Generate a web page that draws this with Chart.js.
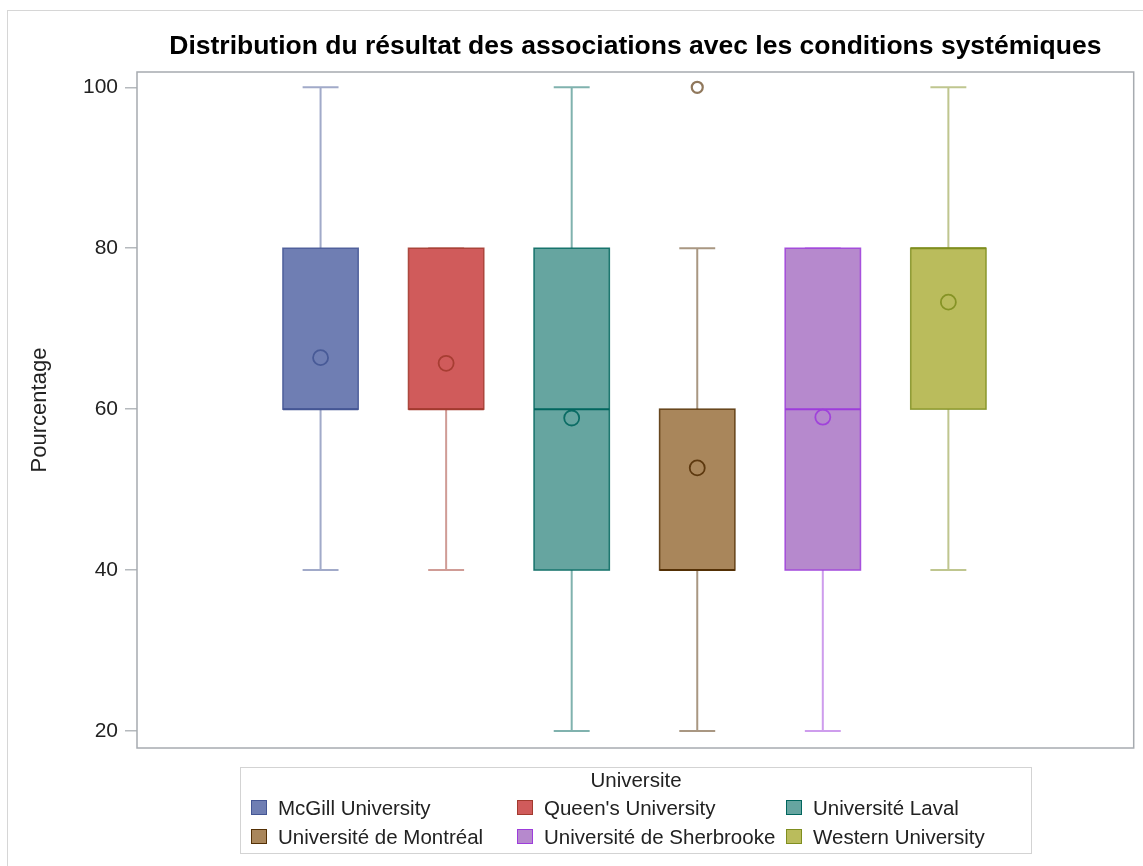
<!DOCTYPE html>
<html>
<head>
<meta charset="utf-8">
<script src="https://cdn.jsdelivr.net/npm/chart.js@4.4.1/dist/chart.umd.min.js"></script>
<style>
  html, body { margin: 0; padding: 0; background: #fff; }
  #wrap { position: relative; width: 1143px; height: 866px; overflow: hidden; }
  #frame { position: absolute; left: 7px; top: 10px; width: 1200px; height: 900px; border: 1px solid #d6d6d6; box-sizing: border-box; }
  canvas { position: absolute; left: 0; top: 0; }
  #legend { position: absolute; left: 240px; top: 767px; width: 792px; height: 87px; border: 1px solid #d3d3d3; box-sizing: border-box; font-family: "Liberation Sans", Arial, sans-serif; font-size: 20.5px; color: #222; }
  #legend .ttl { position: absolute; left: 0; right: 0; top: 0px; line-height: 24px; text-align: center; }
  #legend .item { position: absolute; white-space: nowrap; line-height: 24px; }
  #legend .sw { position: absolute; left: 0; top: 4px; width: 16px; height: 15px; border: 1.5px solid; box-sizing: border-box; }
  #legend .lbl { position: absolute; left: 27px; top: 0; }
</style>
</head>
<body>
<div id="wrap">
  <div id="frame"></div>
  <canvas id="c" width="1143" height="866"></canvas>
  <div id="legend"><div class="ttl">Universite</div></div>
</div>
<script>
// ---- data ----
const universities = ["McGill University", "Queen's University", "Université Laval", "Université de Montréal", "Université de Sherbrooke", "Western University"];
const whiskerLow  = [40, 40, 20, 20, 20, 40];
const q1Values    = [60, 60, 40, 40, 40, 60];
const medians     = [60, 60, 60, 40, 60, 80];
const q3Values    = [80, 80, 80, 60, 80, 80];
const whiskerHigh = [100, 80, 100, 80, 80, 100];
const means       = [66.4, 65.7, 58.9, 52.7, 59.0, 73.3];
const outlierUni  = [3];
const outlierVals = [100];
const yTicks      = [20, 40, 60, 80, 100];

const fillColors = ["#6F7EB3", "#D05B5B", "#66A5A0", "#A9865B", "#B689CD", "#BABC5C"];
const lineColors = ["#445694", "#A23A2E", "#01665E", "#543005", "#9D3CDB", "#7F8E1F"];

function rgba(hex, a) {
  const n = parseInt(hex.slice(1), 16);
  return `rgba(${(n >> 16) & 255},${(n >> 8) & 255},${n & 255},${a})`;
}

// ---- legend (HTML) ----
const legend = document.getElementById('legend');
const colX = [10, 276, 545];
universities.forEach((u, i) => {
  const it = document.createElement('div');
  it.className = 'item';
  it.style.left = colX[i % 3] + 'px';
  it.style.top = (i < 3 ? 28 : 57) + 'px';
  it.innerHTML = `<span class="sw" style="background:${fillColors[i]};border-color:${lineColors[i]}"></span><span class="lbl">${u}</span>`;
  legend.appendChild(it);
});

// ---- box plot plugin (draws via chart scales) ----
const BOX_HALF = 0.3, CAP_HALF = 0.143;
const boxPlugin = {
  id: 'boxes',
  beforeDatasetsDraw(chart) {
    const {ctx, scales: {x, y}} = chart;
    ctx.save();
    universities.forEach((u, i) => {
      const xc = x.getPixelForValue(i);
      const xl = x.getPixelForValue(i - BOX_HALF), xr = x.getPixelForValue(i + BOX_HALF);
      const cl = x.getPixelForValue(i - CAP_HALF), cr = x.getPixelForValue(i + CAP_HALF);
      const yLo = y.getPixelForValue(whiskerLow[i]), yHi = y.getPixelForValue(whiskerHigh[i]);
      const yQ1 = y.getPixelForValue(q1Values[i]), yQ3 = y.getPixelForValue(q3Values[i]);
      const yMed = y.getPixelForValue(medians[i]);
      // whiskers
      ctx.strokeStyle = rgba(lineColors[i], 0.5);
      ctx.lineWidth = 2;
      ctx.beginPath();
      ctx.moveTo(xc, yQ1); ctx.lineTo(xc, yLo);
      ctx.moveTo(cl, yLo); ctx.lineTo(cr, yLo);
      ctx.moveTo(xc, yQ3); ctx.lineTo(xc, yHi);
      ctx.moveTo(cl, yHi); ctx.lineTo(cr, yHi);
      ctx.stroke();
      // box
      ctx.fillStyle = fillColors[i];
      ctx.fillRect(xl, yQ3, xr - xl, yQ1 - yQ3);
      ctx.strokeStyle = rgba(lineColors[i], 0.85);
      ctx.lineWidth = 1.5;
      ctx.strokeRect(xl, yQ3, xr - xl, yQ1 - yQ3);
      // median
      ctx.strokeStyle = lineColors[i];
      ctx.lineWidth = 2;
      ctx.beginPath();
      ctx.moveTo(xl, yMed); ctx.lineTo(xr, yMed);
      ctx.stroke();
    });
    ctx.restore();
  },
  afterDraw(chart) {
    const {ctx, chartArea: a} = chart;
    ctx.save();
    ctx.strokeStyle = '#a7abb0';
    ctx.lineWidth = 1.5;
    ctx.strokeRect(a.left, a.top, a.right - a.left, a.bottom - a.top);
    ctx.restore();
  }
};

const meanData = means.map((m, i) => ({x: i, y: m}));
const outlierData = outlierUni.map((u, k) => ({x: u, y: outlierVals[k]}));

new Chart(document.getElementById('c'), {
  type: 'scatter',
  data: {
    datasets: [
      {
        label: 'Moyenne',
        data: meanData,
        pointStyle: 'circle',
        pointRadius: 7.5,
        pointBorderWidth: 1.8,
        backgroundColor: 'rgba(0,0,0,0)',
        pointBorderColor: means.map((m, i) => rgba(lineColors[i], 0.9)),
      },
      {
        label: 'Aberrant',
        data: outlierData,
        pointStyle: 'circle',
        pointRadius: 5.5,
        pointBorderWidth: 2.2,
        backgroundColor: 'rgba(0,0,0,0)',
        pointBorderColor: outlierUni.map(u => rgba(lineColors[u], 0.65)),
      }
    ]
  },
  options: {
    responsive: false,
    animation: false,
    events: [],
    layout: { padding: { left: 0, right: 5, top: 0, bottom: 118 } },
    plugins: {
      legend: { display: false },
      tooltip: { enabled: false },
      title: {
        display: true,
        fullSize: false,
        text: 'Distribution du résultat des associations avec les conditions systémiques',
        color: '#000',
        font: { family: '"Liberation Sans", Arial, sans-serif', size: 26.5, weight: 'bold', lineHeight: 1.2 },
        padding: { top: 31, bottom: 9.2 }
      }
    },
    scales: {
      x: {
        type: 'linear',
        display: false,
        min: -1.462,
        max: 6.476
      },
      y: {
        type: 'linear',
        min: 17.887,
        max: 101.9,
        afterBuildTicks(scale) { scale.ticks = yTicks.map(v => ({value: v})); },
        afterFit(scale) { scale.width = 137; },
        grid: { drawOnChartArea: false, drawTicks: true, tickLength: 12, color: '#b5b9bd', lineWidth: 1.5 },
        border: { display: false },
        ticks: {
          padding: 7,
          color: '#222',
          font: { family: '"Liberation Sans", Arial, sans-serif', size: 21 }
        },
        title: {
          display: true,
          text: 'Pourcentage',
          color: '#222',
          font: { family: '"Liberation Sans", Arial, sans-serif', size: 22, lineHeight: 1.2 },
          padding: { top: 27, bottom: 0 }
        }
      }
    }
  },
  plugins: [boxPlugin]
});
</script>
</body>
</html>
